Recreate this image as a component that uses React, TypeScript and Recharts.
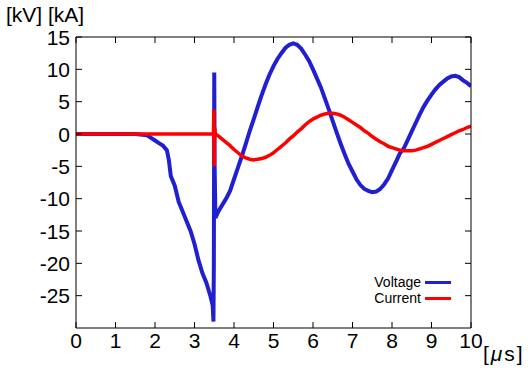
import React from 'react';
import { LineChart, Line, XAxis, YAxis, Legend } from 'recharts';

// time in µs, voltage in kV
const voltageTime = [
  0, 0.5, 1.0, 1.5, 1.8, 1.9, 2.0, 2.1, 2.2, 2.3, 2.35, 2.4, 2.5, 2.6, 2.7, 2.8, 2.9,
  3.0, 3.1, 3.2, 3.3, 3.4, 3.46, 3.48, 3.49, 3.5, 3.51, 3.53, 3.6, 3.7, 3.8, 3.9,
  4.0, 4.1, 4.2, 4.3, 4.4, 4.5, 4.6, 4.7, 4.8, 4.9, 5.0, 5.1, 5.2, 5.3, 5.4, 5.5,
  5.6, 5.7, 5.8, 5.9, 6.0, 6.1, 6.2, 6.3, 6.4, 6.5, 6.6, 6.7, 6.8, 6.9, 7.0, 7.1,
  7.2, 7.3, 7.4, 7.5, 7.6, 7.7, 7.8, 7.9, 8.0, 8.1, 8.2, 8.3, 8.4, 8.5, 8.6, 8.7,
  8.8, 8.9, 9.0, 9.1, 9.2, 9.3, 9.4, 9.5, 9.6, 9.7, 9.8, 9.9, 10.0,
];
const voltage = [
  0, 0, 0, 0, -0.2, -0.6, -1.0, -1.4, -1.8, -2.5, -4, -6.5, -8, -10.5, -12, -13.5, -15,
  -17, -19.5, -21.5, -23, -25, -26.5, -29, -20, 9.5, -5, -13, -12, -11, -10, -8.8,
  -7, -5.2, -3.4, -1.5, 0.5, 2.3, 4.2, 6, 7.7, 9.2, 10.5, 11.6, 12.5, 13.3, 13.8, 14,
  13.8, 13.2, 12.3, 11.3, 10, 8.6, 7.2, 5.5, 3.8, 2, 0.2, -1.5, -3.1, -4.6, -5.8, -7,
  -7.9, -8.5, -8.8, -9, -8.9, -8.5, -7.8, -6.9, -5.6, -4.3, -3.0, -2.2, -0.9, 0.4, 1.7, 3.0,
  4.2, 5.2, 6.1, 6.9, 7.6, 8.1, 8.6, 8.9, 9.0, 8.8, 8.3, 7.9, 7.4,
];

// time in µs, current in kA
const currentTime = [
  0, 1.0, 2.0, 3.0, 3.45, 3.48, 3.49, 3.5, 3.51, 3.53, 3.6, 3.7, 3.8, 3.9,
  4.0, 4.1, 4.2, 4.3, 4.4, 4.5, 4.6, 4.7, 4.8, 4.9, 5.0, 5.1, 5.2, 5.3, 5.4, 5.5,
  5.6, 5.7, 5.8, 5.9, 6.0, 6.1, 6.2, 6.3, 6.4, 6.5, 6.6, 6.7, 6.8, 6.9, 7.0, 7.1,
  7.2, 7.3, 7.4, 7.5, 7.6, 7.7, 7.8, 7.9, 8.0, 8.1, 8.2, 8.3, 8.4, 8.5, 8.6, 8.7,
  8.8, 8.9, 9.0, 9.1, 9.2, 9.3, 9.4, 9.5, 9.6, 9.7, 9.8, 9.9, 10.0,
];
const current = [
  0, 0, 0, 0, 0, 0, 3.8, -5, 1, 0, -0.3, -0.8, -1.3, -1.8,
  -2.4, -2.9, -3.4, -3.7, -3.9, -4.0, -3.9, -3.8, -3.6, -3.3, -2.9, -2.4, -1.9, -1.4, -0.8, -0.3,
  0.3, 0.8, 1.4, 1.9, 2.3, 2.6, 2.9, 3.1, 3.2, 3.2, 3.1, 2.9, 2.6, 2.2, 1.8, 1.4,
  1.0, 0.5, 0.1, -0.4, -0.8, -1.2, -1.5, -1.9, -2.1, -2.3, -2.5, -2.6, -2.6, -2.6, -2.5, -2.3,
  -2.1, -1.9, -1.6, -1.3, -1.0, -0.7, -0.4, -0.1, 0.2, 0.5, 0.7, 1.0, 1.2,
];

const xTicks = [0, 1, 2, 3, 4, 5, 6, 7, 8, 9, 10];
const yTicks = [-25, -20, -15, -10, -5, 0, 5, 10, 15];

const voltageData = voltageTime.map((t, i) => ({ t, v: voltage[i] }));
const currentData = currentTime.map((t, i) => ({ t, c: current[i] }));

const FONT = '"Liberation Sans", Arial, Helvetica, sans-serif';
const BLUE = '#2020d0';
const RED = '#ff0000';
const TICK = 6;

const LeftTick = (props: any) => {
  const { x, y, payload } = props;
  return (
    <g>
      <line x1={x + 6} x2={x + 6 + TICK} y1={y} y2={y} stroke="#000" />
      <text x={x} y={y} dy={7.5} textAnchor="end" fontSize={21} fontFamily={FONT} fill="#000">
        {payload.value}
      </text>
    </g>
  );
};

const RightTick = (props: any) => {
  const { x, y } = props;
  return <line x1={x - TICK} x2={x} y1={y} y2={y} stroke="#000" />;
};

const BottomTick = (props: any) => {
  const { x, y, payload } = props;
  return (
    <g>
      <line x1={x} x2={x} y1={y - TICK} y2={y} stroke="#000" />
      <text x={x} y={y} dy={20} textAnchor="middle" fontSize={21} fontFamily={FONT} fill="#000">
        {payload.value}
      </text>
    </g>
  );
};

const TopTick = (props: any) => {
  const { x, y } = props;
  return <line x1={x} x2={x} y1={y} y2={y + TICK} stroke="#000" />;
};

const LegendBox = () => (
  <div style={{ fontFamily: FONT, fontSize: 14, color: '#000', lineHeight: '16px' }}>
    {[
      { name: 'Voltage', color: BLUE },
      { name: 'Current', color: RED },
    ].map((s) => (
      <div key={s.name} style={{ display: 'flex', alignItems: 'center', justifyContent: 'flex-end' }}>
        <span>{s.name}</span>
        <span style={{ display: 'inline-block', width: 26, height: 3, background: s.color, marginLeft: 4 }} />
      </div>
    ))}
  </div>
);

export default function App() {
  return (
    <div style={{ position: 'absolute', left: 0, top: 0, width: 531, height: 372, background: '#fff' }}>
      <LineChart
        width={531}
        height={372}
        margin={{ top: 27, right: 50, bottom: 14, left: 0 }}
      >
        <XAxis
          dataKey="t"
          type="number"
          domain={[0, 10]}
          ticks={xTicks}
          allowDataOverflow
          height={30}
          tickSize={0}
          tickMargin={0}
          tickLine={false}
          axisLine={{ stroke: '#000' }}
          tick={<BottomTick />}
          interval={0}
        />
        <XAxis
          xAxisId="top"
          orientation="top"
          dataKey="t"
          type="number"
          domain={[0, 10]}
          ticks={xTicks}
          allowDataOverflow
          height={10}
          tickSize={0}
          tickMargin={0}
          tickLine={false}
          axisLine={{ stroke: '#000' }}
          tick={<TopTick />}
          interval={0}
        />
        <YAxis
          type="number"
          domain={[-30, 15]}
          ticks={yTicks}
          allowDataOverflow
          width={76}
          tickSize={0}
          tickMargin={6}
          tickLine={false}
          axisLine={{ stroke: '#000' }}
          tick={<LeftTick />}
          interval={0}
        />
        <YAxis
          yAxisId="right"
          orientation="right"
          type="number"
          domain={[-30, 15]}
          ticks={yTicks}
          allowDataOverflow
          width={10}
          tickSize={0}
          tickMargin={0}
          tickLine={false}
          axisLine={{ stroke: '#000' }}
          tick={<RightTick />}
          interval={0}
        />
        <Legend
          layout="vertical"
          align="center"
          verticalAlign="middle"
          content={<LegendBox />}
          wrapperStyle={{ left: 357, top: 274, width: 94 }}
        />
        <Line
          data={voltageData}
          dataKey="v"
          name="Voltage"
          stroke={BLUE}
          strokeWidth={4}
          dot={false}
          isAnimationActive={false}
        />
        <Line
          data={currentData}
          dataKey="c"
          name="Current"
          stroke={RED}
          strokeWidth={3.5}
          dot={false}
          isAnimationActive={false}
        />
      </LineChart>
      <div style={{ position: 'absolute', left: 6, top: 3, fontFamily: FONT, fontSize: 21, color: '#000', whiteSpace: 'nowrap' }}>
        [kV] [kA]
      </div>
      <div style={{ position: 'absolute', left: 483, top: 342, fontFamily: FONT, fontSize: 21, color: '#000', whiteSpace: 'nowrap', letterSpacing: 2 }}>
        [<i>μ</i>s]
      </div>
    </div>
  );
}
